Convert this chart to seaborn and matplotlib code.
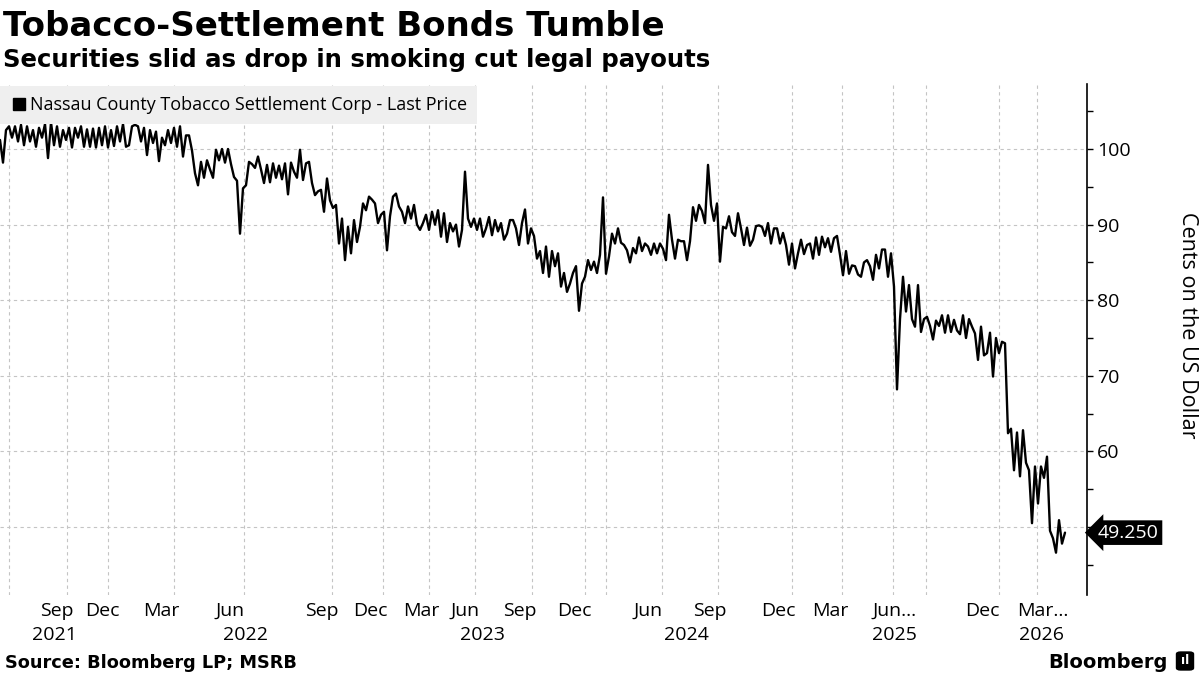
import matplotlib
matplotlib.use("Agg")
import matplotlib.pyplot as plt
from matplotlib.lines import Line2D
from matplotlib.patches import FancyBboxPatch
import numpy as np
import pandas as pd
import seaborn as sns

# ---------------- data (one value per trading session shown) ----------------
price = [
    101.2, 98.2, 102.5, 103, 101.5, 103, 101, 103.2, 100.5, 103,
    101, 102.5, 100.3, 102.8, 101.5, 103.3, 98.8, 103.5, 100.5, 103,
    100.3, 102.5, 101.2, 102.8, 100.2, 102.8, 101.5, 103, 100.3, 102.6,
    100.3, 102.7, 100.2, 102.8, 100.5, 103, 100.2, 102.5, 100.4, 103,
    101, 103.3, 100.3, 100.5, 103, 103.2, 103, 101, 102.8, 99.2,
    102.5, 100.8, 102.3, 98.4, 101.5, 100.5, 102.5, 100.8, 102.8, 100.3,
    103,
    99, 101.8, 101.8, 99.8, 96.8, 95.2, 98.3, 96.2, 98.5, 97.3,
    96.2, 99.9, 98.5, 100, 98.2, 100, 98, 96.3, 95.8, 88.8,
    94.8, 95.2, 98.3, 98, 97.5, 99, 97.3, 95.5, 97.9, 95.6,
    98.1, 96.2, 97.8, 96, 98.1, 94, 98.2, 97, 96.2,
    99.9, 95.9, 98.1, 98.3, 95.5, 93.9, 94.4, 94.6, 91.7, 96.1,
    93.2, 92.2, 92.6, 87.5, 90.8, 85.3, 89.7, 86.2, 90.6, 87.7,
    89.7, 92.8, 91.9, 93.7, 93.3, 92.8, 90.2, 91.3, 91.7, 86.6,
    91.1, 93.7, 94.1, 92.4, 91.7, 90.2, 92.4, 90.8, 92.6, 90,
    89.3, 90.2, 91.3, 89.3, 91.7, 90, 91.9, 88.4, 91.5, 87.7,
    90.2, 89.1, 90, 87.1, 89.3, 97, 90.8, 89.7, 90.8, 89.3,
    90.8, 88.4, 89.5, 91, 88.6, 90.6, 89.1, 90.2, 88, 88.8,
    90.6, 90.6, 89.5, 87.3, 90.2, 92,
    87.5, 89.5, 88.5, 85.5, 86.5, 83.6, 87.1, 83.1, 86.5, 84.5,
    86.2, 81.8, 83.6, 81.1, 82.2, 83.6, 84.5, 78.6, 82.2, 83.1,
    85.3, 84, 85.1, 83.6, 86, 93.6, 83.5, 85.8, 88.8, 87.5,
    89.5, 87.6, 87.3, 86.6, 85, 86.9, 86.2, 88.3, 86.5, 87.5,
    87.1, 86, 87.5, 86.2, 87.5, 86.8, 85.3, 91.3, 88, 85.5,
    88, 87.8, 87.8, 85.3, 87.8, 92.3, 90.5, 92.6, 91.8,
    90.2, 97.9, 92.6, 90.5, 92.8, 85.1, 89.7, 89.5, 91.1, 89,
    88.5, 91.5, 89.5, 87.3, 89.6, 87.2, 88, 89.8, 89.9, 89.7,
    88.5, 90.2, 87.5, 89.5, 89.5, 87.5, 88.9, 87.3, 84.7, 87.5,
    84.2, 86.2, 88, 86.1, 87.3, 87.5, 85.5, 88.3, 86, 88.4,
    87, 88.2, 86.4, 88.2, 88.5, 86, 83.3, 86.5, 83.5, 84.6,
    84.5, 83.4, 83.1, 85, 85.3, 84.5, 82.7, 86, 84.2, 86.7,
    86.7, 83.1, 86.2,
    81.8, 68.2, 77.5, 83.1, 78.5, 82, 77.5, 76.5, 82, 75.8,
    77.5, 77.8, 76.6, 74.8, 77.3, 76.6, 78, 75.7, 78, 75.8,
    77.4, 76, 75.5, 78, 75, 77.5, 76.5, 75.6, 72.1, 76.5,
    72.7, 73, 75.7, 69.9, 75, 73, 74.5, 74.3, 62.4, 63,
    57.5, 62.5, 56.7, 62.8, 58.5, 57.5, 50.5, 58, 53.1, 58,
    56.5, 59.3, 49.5, 48.5, 46.6, 50.9, 47.8,
    49.25,
]
month_labels = ["Sep", "Dec", "Mar", "Jun", "Sep", "Dec", "Mar", "Jun", "Sep",
                "Dec", "Jun", "Sep", "Dec", "Mar", "Jun...", "Dec", "Mar..."]
year_labels = ["2021", "2022", "2023", "2024", "2025", "2026"]
y_major = [50, 60, 70, 80, 90, 100]
y_minor = [45, 55, 65, 75, 85, 95, 105]
last_price = 49.25
series_name = "Nassau County Tobacco Settlement Corp - Last Price"

# ---------------- layout (session-index positions on the axis) ----------------
month_pos = [19.0, 34.0, 53.7, 76.7, 107.3, 123.3, 140.3, 155.0, 173.3, 191.3,
             216.0, 236.7, 259.3, 276.7, 298.3, 327.3, 347.7]
year_pos = [18.0, 81.7, 160.7, 228.7, 298.0, 347.3]
grid_pos = [3.0, 22.3, 36.0, 58.0, 81.3, 110.7, 127.7, 143.0, 158.3, 177.3,
            195.0, 202.0, 220.7, 239.3, 264.0, 280.7, 297.7, 308.7, 333.0, 345.7]

df = pd.DataFrame({"session": np.arange(len(price)), "price": price})

sns.set_style("white")
plt.rcParams["font.family"] = ["Open Sans", "DejaVu Sans"]
plt.rcParams["text.color"] = "black"
plt.rcParams["axes.labelcolor"] = "black"
plt.rcParams["xtick.color"] = "black"
plt.rcParams["ytick.color"] = "black"

fig = plt.figure(figsize=(12, 6.75), dpi=100)
ax = fig.add_axes([0.0, 1 - 595 / 675, 1087 / 1200, (595 - 84) / 675])

sns.lineplot(data=df, x="session", y="price", color="black", linewidth=1.7,
             ax=ax, legend=False, zorder=3)

ax.set_xlim(0, 1087 / 3)
ax.set_ylim(41.0, 108.6)
ax.set_xlabel("")
ax.set_ylabel("")

for s in ["top", "left", "bottom"]:
    ax.spines[s].set_visible(False)
ax.spines["right"].set_color("black")
ax.spines["right"].set_linewidth(1.2)

# y axis on the right
ax.yaxis.tick_right()
ax.set_yticks(y_major)
ax.set_yticklabels([""] + [str(v) for v in y_major[1:]])
ax.set_yticks(y_minor, minor=True)
ax.tick_params(axis="y", which="both", direction="out", length=4, width=1,
               pad=3, labelsize=14, colors="black", right=True, left=False)

# x axis
ax.set_xticks(month_pos)
ax.set_xticklabels(month_labels)
ax.set_xticks(grid_pos, minor=True)
ax.tick_params(axis="x", which="major", length=0, pad=5, labelsize=14,
               colors="black")
ax.tick_params(axis="x", which="minor", length=0)

ax.grid(False)
ax.grid(axis="y", which="major", color="#c4c4c4", linestyle=(0, (3, 3)),
        linewidth=0.8)
ax.grid(axis="x", which="minor", color="#c4c4c4", linestyle=(0, (3, 3)),
        linewidth=0.8)

for lab, pos in zip(year_labels, year_pos):
    ax.text(pos, -0.078, lab, transform=ax.get_xaxis_transform(),
            ha="center", va="center", fontsize=14, color="black")

# legend
handle = Line2D([], [], marker="s", color="black", linestyle="none",
                markersize=8)
leg = ax.legend([handle], [series_name], loc="upper left",
                bbox_to_anchor=(0, 0.996), borderaxespad=0, frameon=True,
                fancybox=False, facecolor="#efefef", edgecolor="none",
                framealpha=1, fontsize=13, handletextpad=0.1,
                borderpad=0.55, handlelength=1.0)
leg.set_zorder(5)

# last price tag
ax.annotate(f"{last_price:.3f}", xy=(1, last_price),
            xycoords=("axes fraction", "data"), xytext=(8, 0),
            textcoords="offset points", ha="left", va="center",
            color="white", fontsize=14, annotation_clip=False,
            bbox=dict(boxstyle="larrow,pad=0.17", fc="black", ec="none"))

# axis title
fig.text(1188 / 1200, 1 - 325 / 675, "Cents on the US Dollar", rotation=270,
         ha="center", va="center", fontsize=15.5, color="black")

# titles
fig.text(0.0025, 1 - 36 / 675, "Tobacco-Settlement Bonds Tumble",
         fontsize=24.5, fontweight="bold", family="DejaVu Sans",
         ha="left", va="baseline", color="black")
fig.text(0.0025, 1 - 67 / 675,
         "Securities slid as drop in smoking cut legal payouts",
         fontsize=17.6, fontweight="bold", family="DejaVu Sans",
         ha="left", va="baseline", color="black")
fig.text(0.004, 1 - 668 / 675, "Source: Bloomberg LP; MSRB",
         fontsize=12.8, fontweight="bold", family="DejaVu Sans",
         ha="left", va="baseline", color="black")
fig.text(1168 / 1200, 1 - 668 / 675, "Bloomberg", fontsize=14,
         fontweight="bold", family="DejaVu Sans", ha="right", va="baseline",
         color="black")
fig.patches.append(FancyBboxPatch((1177 / 1200, 1 - 670 / 675),
                                  16 / 1200, 18 / 675,
                                  boxstyle="round,pad=0.001,rounding_size=0.004",
                                  transform=fig.transFigure, fc="black",
                                  ec="none"))
fig.text(1185 / 1200, 1 - 661 / 675, "ıl", fontsize=9, fontweight="bold",
         family="DejaVu Sans", ha="center", va="center", color="white")

fig.savefig("out.png", dpi=100, facecolor="white")
